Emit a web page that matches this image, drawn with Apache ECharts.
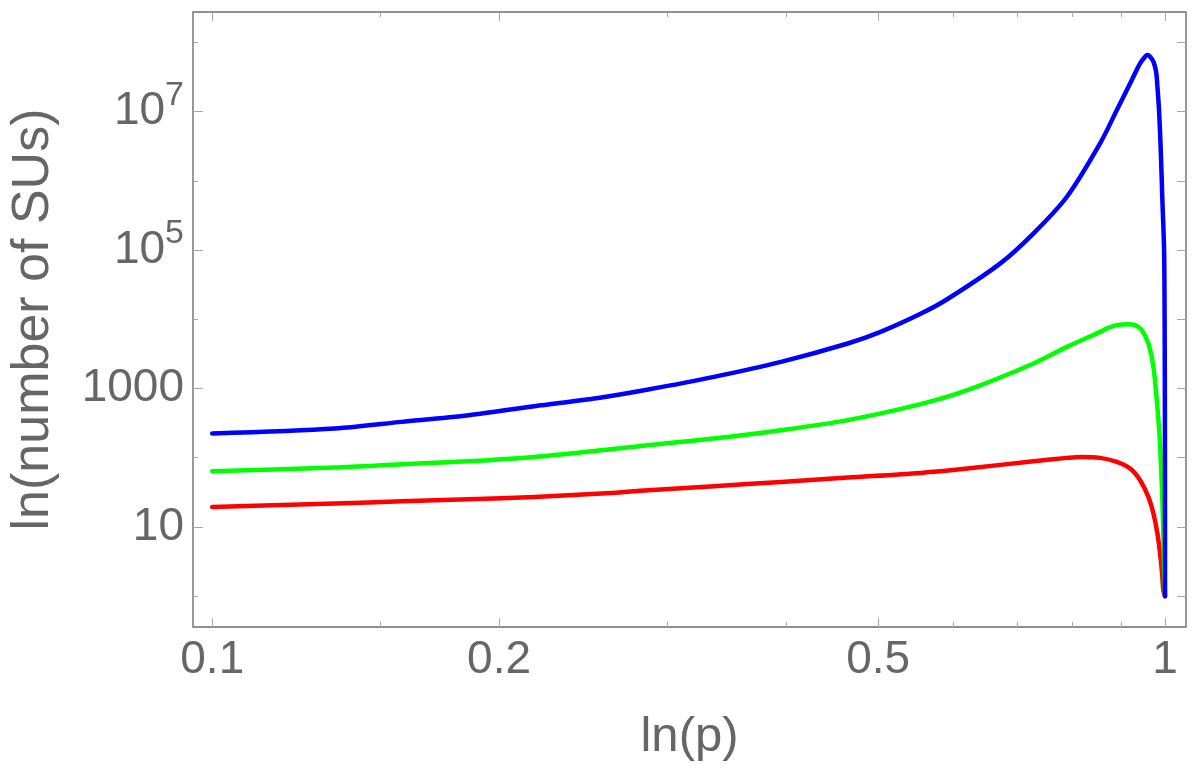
<!DOCTYPE html>
<html>
<head>
<meta charset="utf-8">
<script src="https://cdn.jsdelivr.net/npm/echarts@6.0.0/dist/echarts.min.js"></script>
<style>
  html, body { margin: 0; padding: 0; background: #fff; }
  #main { width: 1200px; height: 771px; }
</style>
</head>
<body>
<div id="main"></div>
<script>
// p values and log10(number of SUs)
var redP = [0.1, 0.1345, 0.1581, 0.1858, 0.2179, 0.2561, 0.2868, 0.3362, 0.3953, 0.4645, 0.5539, 0.62,
  0.7278, 0.7889, 0.8147, 0.8548, 0.8901, 0.9192, 0.9415, 0.9605, 0.9723, 0.9818, 0.9881, 0.9929, 0.9959, 1];
var redExp = [1.289, 1.338, 1.372, 1.400, 1.434, 1.483, 1.531, 1.588, 1.651, 1.714, 1.781, 1.844,
  1.950, 1.998, 2.012, 1.998, 1.940, 1.844, 1.675, 1.434, 1.194, 0.905, 0.615, 0.326, 0.085, 0];

var greenP = [0.1, 0.1345, 0.1581, 0.1858, 0.2179, 0.2561, 0.2868, 0.3362, 0.3953, 0.4645, 0.5539, 0.62,
  0.7278, 0.7889, 0.8548, 0.869, 0.8901, 0.9118, 0.9302, 0.9454, 0.9605, 0.9723, 0.9802, 0.9865, 0.9904,
  0.9936, 0.9959, 0.9977, 1];
var greenExp = [1.805, 1.859, 1.906, 1.950, 2.012, 2.109, 2.181, 2.278, 2.398, 2.543, 2.774, 2.976,
  3.362, 3.602, 3.819, 3.868, 3.916, 3.930, 3.916, 3.844, 3.651, 3.313, 2.832, 2.350, 1.867,
  1.386, 0.905, 0.422, 0];

var blueP = [0.1, 0.1345, 0.1581, 0.1858, 0.2179, 0.2561, 0.2868, 0.3362, 0.3953, 0.4645, 0.5029, 0.5539,
  0.5907, 0.6717, 0.7278, 0.7889, 0.8548, 0.8901, 0.9264, 0.9415, 0.953, 0.9583, 0.9645, 0.9723, 0.9786,
  0.9818, 0.9856, 0.9897, 0.9936, 0.9977, 0.999, 0.9997, 1];
var blueExp = [2.350, 2.423, 2.518, 2.615, 2.745, 2.871, 2.986, 3.169, 3.385, 3.651, 3.819, 4.080,
  4.290, 4.808, 5.242, 5.771, 6.543, 7.024, 7.506, 7.699, 7.795, 7.819, 7.795, 7.723, 7.578,
  7.361, 7.024, 6.446, 5.723, 5.0, 4.0, 2.5, 0];

var xMajorTicks = [0.1, 0.2, 0.5, 1];
var xMinorTicks = [0.15, 0.3, 0.4, 0.6, 0.7, 0.8, 0.9];
var yMajorExp = [1, 3, 5, 7];
var yMinorExp = [0, 2, 4, 6, 8];

function pairs(ps, exps) {
  return ps.map(function (p, i) { return [Math.log10(p), exps[i]]; });
}
function logs(arr) {
  return arr.map(function (v) { return Math.log10(v); });
}

var xMin = -1.0202, xMax = 0.022;
var yMin = -0.446, yMax = 8.441;
var textColor = '#666666';
var tickColor = '#a8a8a8';
var fontName = '"Liberation Sans", Arial, sans-serif';

function makeX(position, ticks, len, withLabels) {
  var ax = {
    type: 'value', position: position, min: xMin, max: xMax,
    splitLine: { show: false },
    axisLine: { show: false, onZero: false },
    axisTick: { show: true, inside: true, length: len, customValues: ticks,
      lineStyle: { color: tickColor, width: 1 } },
    axisLabel: { show: false }
  };
  if (withLabels) {
    ax.axisLabel = {
      show: true, customValues: ticks, margin: 10,
      color: textColor, fontSize: 46, fontFamily: fontName,
      formatter: function (v) { return String(Number(Math.pow(10, v).toFixed(2))); }
    };
    ax.name = 'ln(p)';
    ax.nameLocation = 'middle';
    ax.nameGap = 86;
    ax.nameTextStyle = { color: textColor, fontSize: 49, fontFamily: fontName };
  }
  return ax;
}

function makeY(position, ticks, len, withLabels) {
  var ax = {
    type: 'value', position: position, min: yMin, max: yMax,
    splitLine: { show: false },
    axisLine: { show: false, onZero: false },
    axisTick: { show: true, inside: true, length: len, customValues: ticks,
      lineStyle: { color: tickColor, width: 1 } },
    axisLabel: { show: false }
  };
  if (withLabels) {
    ax.axisLabel = {
      show: true, customValues: ticks, margin: 9,
      color: textColor, fontSize: 46, fontFamily: fontName, lineHeight: 66,
      formatter: function (v) {
        var e = Math.round(v);
        if (e <= 3) return String(Math.pow(10, e));
        return '10{sup|' + e + '}';
      },
      rich: {
        sup: { fontSize: 34, lineHeight: 34, verticalAlign: 'top', color: textColor, fontFamily: fontName }
      }
    };
    ax.name = 'ln(number of SUs)';
    ax.nameLocation = 'middle';
    ax.nameGap = 133;
    ax.nameTextStyle = { color: textColor, fontSize: 52, fontFamily: fontName };
  }
  return ax;
}

function lineSeries(name, color, data) {
  return {
    name: name, type: 'line', data: data, showSymbol: false, symbol: 'none',
    smooth: 0.3,
    lineStyle: { color: color, width: 4.5, join: 'round', cap: 'round' }
  };
}

var chart = echarts.init(document.getElementById('main'));
chart.setOption({
  animation: false,
  backgroundColor: '#ffffff',
  grid: {
    left: 191, right: 14, top: 12, bottom: 144,
    show: true, borderColor: '#6e6e6e', borderWidth: 1.4, backgroundColor: 'transparent'
  },
  xAxis: [
    makeX('bottom', logs(xMajorTicks), 9, true),
    makeX('bottom', logs(xMinorTicks), 5, false),
    makeX('top', logs(xMajorTicks), 9, false),
    makeX('top', logs(xMinorTicks), 5, false)
  ],
  yAxis: [
    makeY('left', yMajorExp, 10, true),
    makeY('left', yMinorExp, 5, false),
    makeY('right', yMajorExp, 9, false),
    makeY('right', yMinorExp, 9, false)
  ],
  series: [
    lineSeries('red', '#ff0000', pairs(redP, redExp)),
    lineSeries('green', '#00ff00', pairs(greenP, greenExp)),
    lineSeries('blue', '#0000ff', pairs(blueP, blueExp))
  ]
});
</script>
</body>
</html>
